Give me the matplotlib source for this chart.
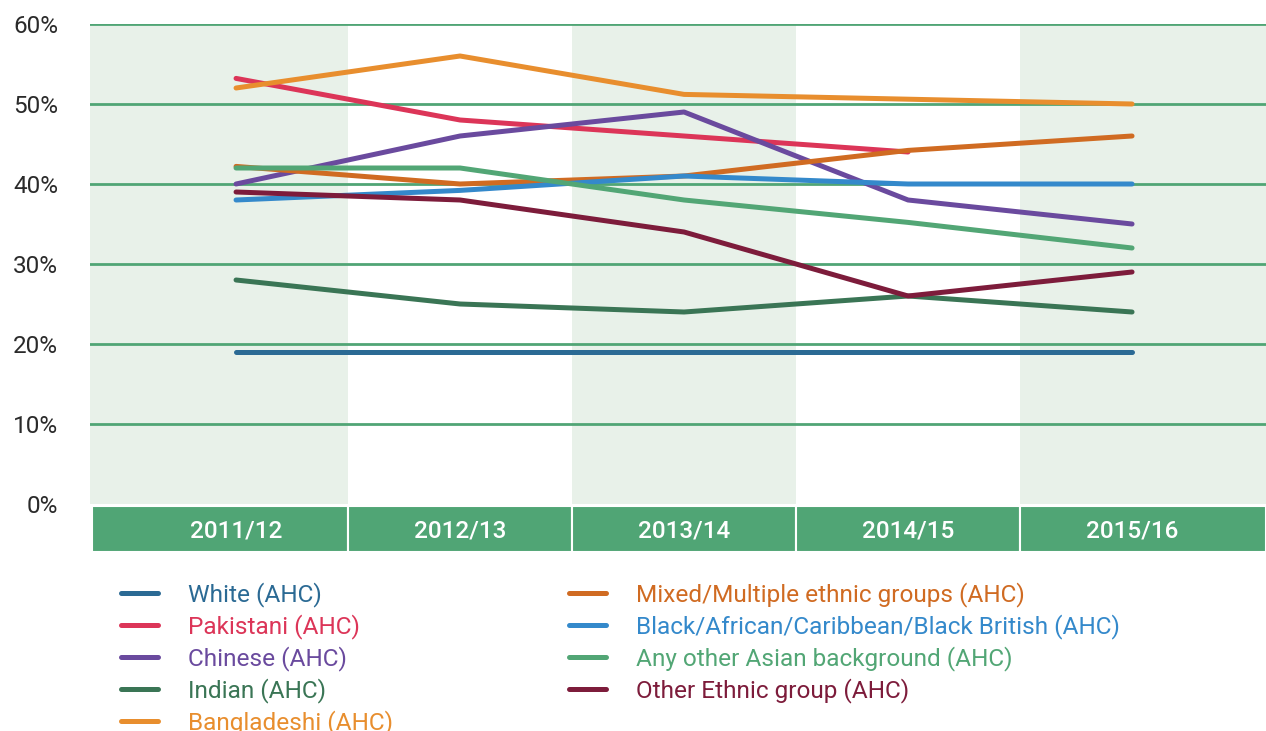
import numpy as np
import matplotlib
matplotlib.use("Agg")
import matplotlib.pyplot as plt
from matplotlib.lines import Line2D

# data (percent, AHC)
years = ["2011/12", "2012/13", "2013/14", "2014/15", "2015/16"]

white = [19, 19, 19, 19, 19]
pakistani = [53.2, 48, 46, 44, np.nan]
chinese = [40, 46, 49, 38, 35]
indian = [28, 25, 24, 26, 24]
bangladeshi = [52, 56, 51.2, 50.6, 50]
mixed = [42.2, 40, 41, 44.2, 46]
black = [38, 39.2, 41, 40, 40]
other_asian = [42, 42, 38, 35.2, 32]
other_ethnic = [39, 38, 34, 26, 29]

names = ["White (AHC)", "Pakistani (AHC)", "Chinese (AHC)", "Indian (AHC)",
         "Bangladeshi (AHC)", "Mixed/Multiple ethnic groups (AHC)",
         "Black/African/Caribbean/Black British (AHC)",
         "Any other Asian background (AHC)", "Other Ethnic group (AHC)"]
series = [white, pakistani, chinese, indian, bangladeshi, mixed, black,
          other_asian, other_ethnic]
colors = ["#2b6a94", "#dc3558", "#6a4a9e", "#3a7555", "#e88e2e",
          "#d06b22", "#3489cb", "#52a675", "#7d1c3b"]

GREEN = "#50a575"
BAND = "#e8f1e9"
plt.rcParams["font.family"] = ["Roboto", "DejaVu Sans"]

W, H = 1266, 731
fig = plt.figure(figsize=(W / 100, H / 100), dpi=100)

x = np.arange(len(years))
xmin, xmax = -0.652, 4.598
last = len(years) - 1

# main plot area
ax = fig.add_axes([90 / W, (H - 504) / H, (W - 90) / W, 480 / H])
ax.set_xlim(xmin, xmax)
ax.set_ylim(0, 60)
for i in range(0, len(years), 2):
    lo = xmin if i == 0 else i - 0.5
    hi = xmax if i == last else i + 0.5
    ax.axvspan(lo, hi, color=BAND, lw=0, zorder=0)
for v in range(10, 61, 10):
    ax.axhline(v, color=GREEN, lw=2, zorder=1)

for vals, c in zip(series, colors):
    ax.plot(x, vals, color=c, lw=3.6, solid_capstyle="round",
            solid_joinstyle="round", zorder=3)

ax.set_xticks([])
ax.set_yticks(range(0, 61, 10))
ax.set_yticklabels([f"{v}%" for v in range(0, 61, 10)])
ax.tick_params(axis="y", length=0, pad=23, labelsize=17.5, labelcolor="#2a2a2a")
for s in ax.spines.values():
    s.set_visible(False)

# category strip under the plot
ax2 = fig.add_axes([90 / W, (H - 552) / H, (W - 90) / W, 46 / H])
ax2.set_xlim(xmin, xmax)
ax2.set_ylim(0, 1)
lefts = [i - 0.5 for i in x]
rights = [i + 0.5 for i in x]
lefts[0] = xmin + 0.01
rights[-1] = xmax
ax2.bar(lefts, 1, width=np.subtract(rights, lefts), align="edge",
        color=GREEN, edgecolor="white", linewidth=1.5)
for i, yr in enumerate(years):
    ax2.text(i, 0.45, yr, ha="center", va="center", color="white",
             fontsize=17.5, fontweight="medium")
ax2.axis("off")

# legend, two columns drawn by hand
rows = 5
for k, (name, c) in enumerate(zip(names, colors)):
    col, row = divmod(k, rows)
    hx = [121, 569][col]
    tx = [188, 636][col]
    yy = 593 + row * 32
    fig.add_artist(Line2D([hx / W, (hx + 37) / W], [1 - yy / H, 1 - yy / H],
                          color=c, lw=3.6, solid_capstyle="round"))
    fig.text(tx / W, 1 - (yy + 1.5) / H, name, color=c, fontsize=17.6,
             ha="left", va="center")

fig.savefig("out.png", dpi=100)
